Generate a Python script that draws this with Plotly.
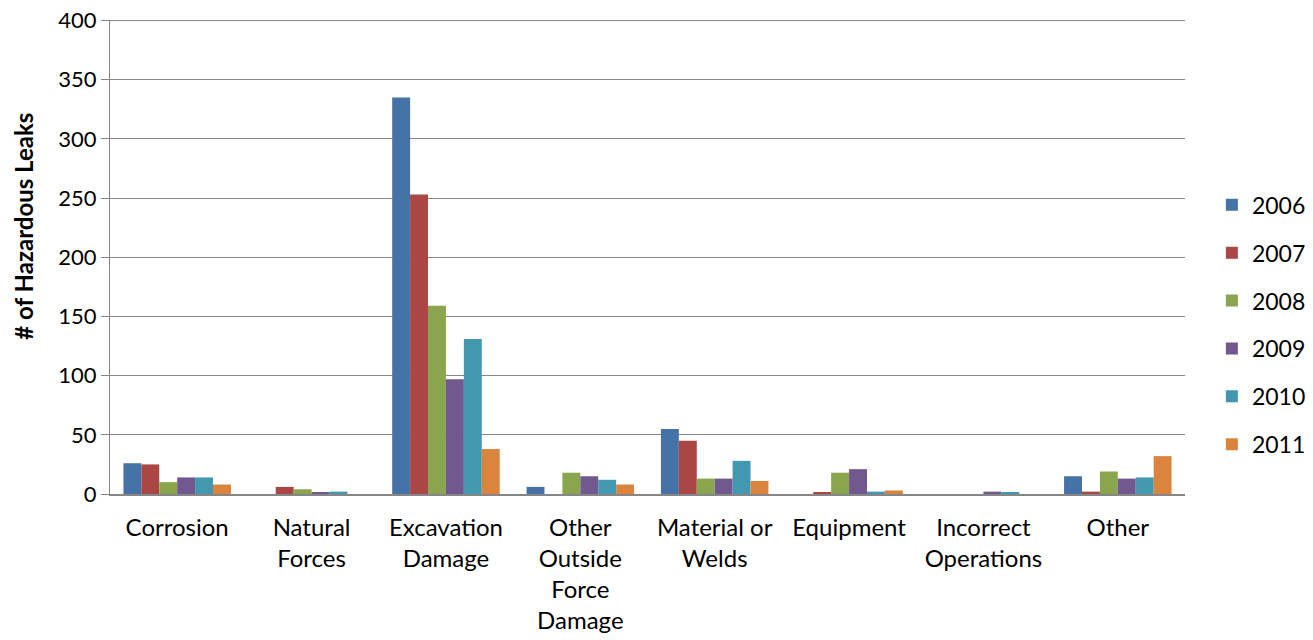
import plotly.graph_objects as go

categories = ["Corrosion", "Natural<br>Forces", "Excavation<br>Damage",
              "Other<br>Outside<br>Force<br>Damage", "Material or<br>Welds",
              "Equipment", "Incorrect<br>Operations", "Other"]
years = ["2006", "2007", "2008", "2009", "2010", "2011"]
values = {
    "2006": [26, 0, 335, 6, 55, 0, 0, 15],
    "2007": [25, 6, 253, 0, 45, 1, 0, 2],
    "2008": [10, 4, 159, 18, 13, 18, 0, 19],
    "2009": [14, 1, 97, 15, 13, 21, 2, 13],
    "2010": [14, 2, 131, 12, 28, 2, 1, 14],
    "2011": [8, 0, 38, 8, 11, 3, 0, 32],
}
colors = ["#4572A7", "#AA4643", "#89A54E", "#71588F", "#4198AF", "#DB843D"]
y_ticks = [0, 50, 100, 150, 200, 250, 300, 350, 400]

fig = go.Figure()
for y, c in zip(years, colors):
    fig.add_trace(go.Bar(x=categories, y=values[y], name=y, marker_color=c,
                         marker_line_width=0, legendgroup=y))

font = "Lato, Carlito, Calibri, sans-serif"
fig.update_layout(
    width=1313, height=640,
    margin=dict(l=110, r=128, t=20, b=146, autoexpand=False),
    plot_bgcolor="white", paper_bgcolor="white",
    barmode="group", bargap=0.2, bargroupgap=0,
    font=dict(family=font, size=22, color="black"),
    legend=dict(x=1.025, y=0.357, yanchor="middle", xanchor="left",
                font=dict(size=23), tracegroupgap=15, traceorder="grouped"),
    yaxis=dict(range=[0, 400.5], tickvals=y_ticks, showgrid=True, gridcolor="#868686",
               gridwidth=1, showline=True, linecolor="#868686", linewidth=1,
               ticks="outside", ticklen=8, tickcolor="#868686", automargin=False,
               tickfont=dict(size=22), zeroline=False),
    xaxis=dict(showline=True, linecolor="#868686", linewidth=2, ticks="",
               tickangle=0, tickfont=dict(size=24), automargin=False,
               ticklabelstandoff=11),
    annotations=[dict(text="<b># of Hazardous Leaks</b>", textangle=-90,
                      xref="paper", yref="paper", x=-0.0805, y=0.565,
                      xanchor="center", yanchor="middle", showarrow=False,
                      font=dict(size=24))],
    shapes=[dict(type="line", xref="paper", x0=0, x1=1, yref="y",
                 y0=y_ticks[-1], y1=y_ticks[-1],
                 line=dict(color="#868686", width=1), layer="below")],
)
fig.write_html("out.html", config={"displayModeBar": False},
               post_script="document.body.style.margin='0';document.body.style.overflow='hidden';")
